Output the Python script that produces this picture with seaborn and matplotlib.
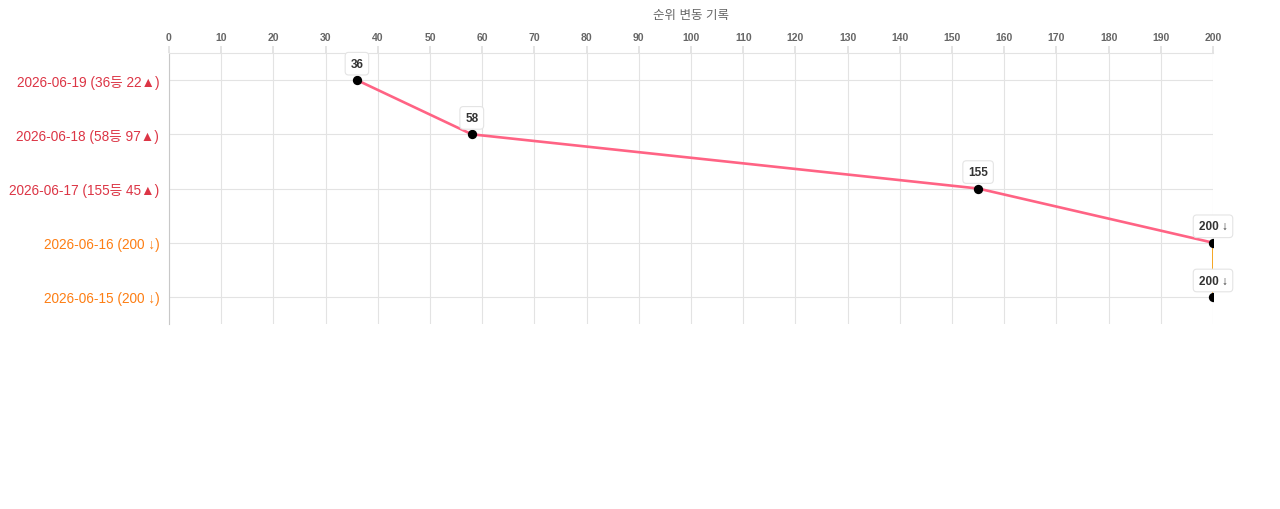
import matplotlib
matplotlib.use("Agg")
import matplotlib.pyplot as plt
import seaborn as sns
import pandas as pd

dates = ["2026-06-19", "2026-06-18", "2026-06-17", "2026-06-16", "2026-06-15"]
ranks = [36, 58, 155, 200, 200]
changes = [22, 97, 45, None, None]
ranked = [True, True, True, False, False]
title = "순위 변동 기록"
x_ticks = list(range(0, 201, 10))

FAM = ["Liberation Sans", "Noto Sans CJK KR", "DejaVu Sans"]
sns.set_theme(style="white")
plt.rcParams["font.family"] = FAM

labels = []
for d, r, c, ok in zip(dates, ranks, changes, ranked):
    if ok:
        labels.append(f"{d} ({r}등 {c}▲)")
    else:
        labels.append(f"{d} ({r} ↓)")
ann = [str(r) if ok else f"{r} ↓" for r, ok in zip(ranks, ranked)]

df = pd.DataFrame({"label": labels, "rank": ranks, "pos": range(len(dates)), "ranked": ranked})

fig = plt.figure(figsize=(12.8, 5.1), dpi=100)
ax = fig.add_axes([169/1280, 1-325/510, (1213-169)/1280, (325-54)/510])

pink = "#ff6384"
orange = "#f5a623"
n_ranked = sum(ranked)
seg1 = df.iloc[:n_ranked + 1]
seg2 = df.iloc[n_ranked:]
sns.lineplot(data=seg1, x="rank", y="pos", sort=False, color=pink, linewidth=1.9, ax=ax, estimator=None)
sns.lineplot(data=seg2, x="rank", y="pos", sort=False, color=orange, linewidth=1.4, ax=ax, estimator=None)
sns.scatterplot(data=df, x="rank", y="pos", color="black", s=45, edgecolor="black", linewidth=0, ax=ax, zorder=5)
for coll in ax.collections:
    coll.set_clip_on(True)
    coll.set_clip_box(ax.bbox)

for r, p, t in zip(ranks, range(len(ranks)), ann):
    ax.annotate(t, (r, p), xytext=(0, 7.5), textcoords="offset points", ha="center", va="bottom",
                fontsize=8.5, fontweight="bold", color="#333333", family=FAM,
                bbox=dict(boxstyle="round,pad=0.45,rounding_size=0.3", fc="white", ec="#e4e4e4", lw=0.8),
                zorder=6, annotation_clip=False)

ax.set_xlim(0, 200)
ax.set_ylim(len(dates) - 0.5, -0.5)
ax.set_xticks(x_ticks)
ax.set_yticks(range(len(dates)))
ax.set_yticklabels(labels)
for tl, ok in zip(ax.get_yticklabels(), ranked):
    tl.set_color("#dc3545" if ok else "#fd7e14")
    tl.set_fontsize(9.8)
ax.xaxis.tick_top()
ax.xaxis.set_label_position("top")
ax.set_xlabel(title, fontsize=9, color="#666666", labelpad=10)
ax.set_ylabel("")
ax.tick_params(axis="x", labelsize=7.5, labelcolor="#666666", length=5, color="#e0e0e0", pad=3)
for tl in ax.get_xticklabels():
    tl.set_fontweight("bold")
ax.tick_params(axis="y", length=0, pad=7)
ax.grid(True, color="#e3e3e3", linewidth=0.8)
ax.set_axisbelow(True)
for s in ["right", "bottom"]:
    ax.spines[s].set_visible(False)
ax.spines["top"].set_color("#e3e3e3")
ax.spines["top"].set_linewidth(0.8)
ax.spines["left"].set_color("#c8c8c8")
ax.spines["left"].set_linewidth(0.8)

fig.savefig("out.png", dpi=100)
